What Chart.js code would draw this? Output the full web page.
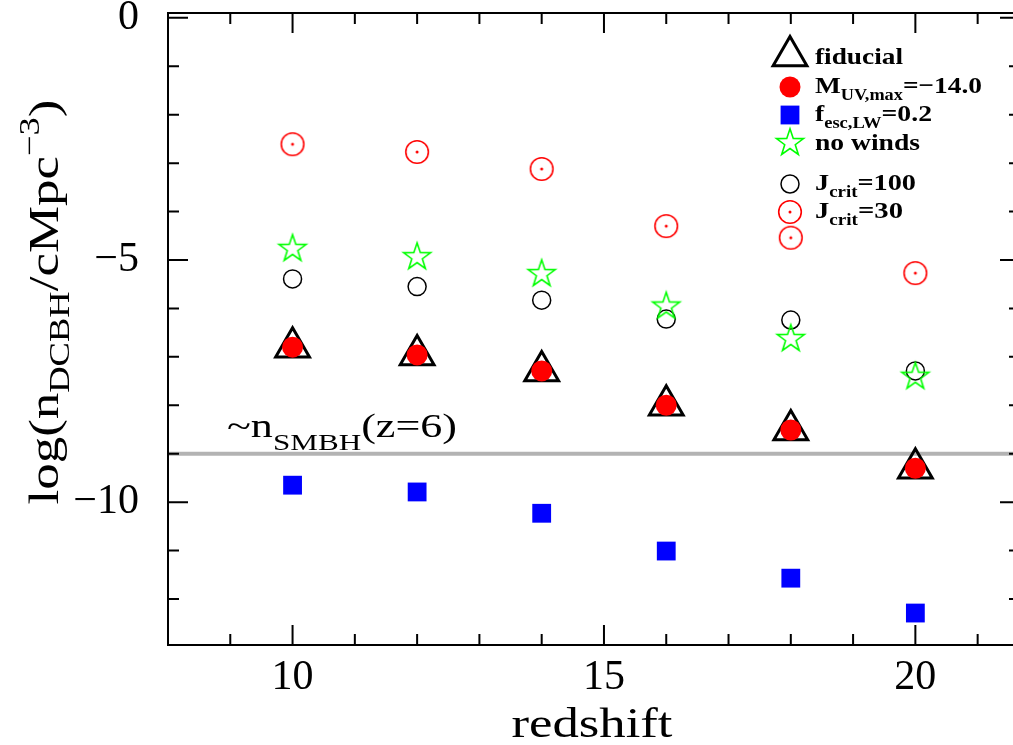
<!DOCTYPE html>
<html>
<head>
<meta charset="utf-8">
<script src="https://cdn.jsdelivr.net/npm/chart.js@4.4.1/dist/chart.umd.min.js"></script>
<style>
  html, body { margin: 0; padding: 0; background: #fff; overflow: hidden; }
  #wrap { width: 1024px; height: 745px; }
</style>
</head>
<body>
<div id="wrap"><canvas id="dcbh" width="1024" height="745"></canvas></div>
<script>
// number density of DCBH host haloes per redshift, one array per model
const redshift  = [10, 12, 14, 16, 18, 20];
const fiducial  = [-6.80, -6.96, -7.29, -8.00, -8.51, -9.30];
const muvMax14  = [-6.80, -6.96, -7.29, -8.00, -8.51, -9.30];
const fescLW02  = [-9.65, -9.79, -10.23, -11.01, -11.57, -12.29];
const noWinds   = [-4.77, -4.94, -5.29, -5.96, -6.63, -7.41];
const jcrit100  = [-5.39, -5.55, -5.83, -6.22, -6.24, -7.29];
const jcrit30   = [-2.61, -2.77, -3.12, -4.30, -4.54, -5.27];

const smbhLevel = -9;           // ~n_SMBH at z=6
const xMajor = [10, 15, 20];
const yMajor = [0, -5, -10];

const SERIF = '"Liberation Serif", "DejaVu Serif", serif';

function pts(ys) { return redshift.map((z, i) => ({ x: z, y: ys[i] })); }

// five-pointed open star
function starImage(r, color, lw) {
  const s = Math.ceil(2 * r + 2 * lw + 4);
  const c = document.createElement('canvas');
  c.width = c.height = s;
  const g = c.getContext('2d');
  g.strokeStyle = color; g.lineWidth = lw; g.lineJoin = 'miter';
  g.beginPath();
  for (let i = 0; i < 10; i++) {
    const a = -Math.PI / 2 + i * Math.PI / 5;
    const rr = i % 2 ? r * 0.39 : r;
    const px = s / 2 + rr * Math.cos(a), py = s / 2 + rr * Math.sin(a);
    if (i === 0) g.moveTo(px, py); else g.lineTo(px, py);
  }
  g.closePath(); g.stroke();
  return c;
}

// open circle with a dot in the middle
function dotCircleImage(r, color, lw) {
  const s = Math.ceil(2 * r + 2 * lw + 4);
  const c = document.createElement('canvas');
  c.width = c.height = s;
  const g = c.getContext('2d');
  g.strokeStyle = color; g.fillStyle = color; g.lineWidth = lw;
  g.beginPath(); g.arc(s / 2, s / 2, r, 0, 2 * Math.PI); g.stroke();
  g.beginPath(); g.arc(s / 2, s / 2, 1.5, 0, 2 * Math.PI); g.fill();
  return c;
}

const starImg = starImage(14.2, '#00ff00', 1.6);
const dotImg = dotCircleImage(11.3, '#ff0000', 1.6);

// marker styles shared by datasets and the legend
const styles = {
  fiducial: { pointStyle: 'triangle', radius: 19.5, bg: 'rgba(0,0,0,0)', border: '#000', bw: 3 },
  muv:      { pointStyle: 'circle', radius: 10.5, bg: '#ff0000', border: '#ff0000', bw: 0 },
  fesc:     { pointStyle: 'rect', radius: 13.3, bg: '#0000ff', border: '#0000ff', bw: 0 },
  winds:    { pointStyle: starImg, radius: 14, bg: '#00ff00', border: '#00ff00', bw: 0 },
  j100:     { pointStyle: 'circle', radius: 9, bg: 'rgba(0,0,0,0)', border: '#000', bw: 1.5 },
  j30:      { pointStyle: dotImg, radius: 12, bg: '#ff0000', border: '#ff0000', bw: 0 }
};

function ds(label, ys, st) {
  return {
    label: label, data: pts(ys), showLine: false,
    pointStyle: st.pointStyle, pointRadius: st.radius, pointHoverRadius: st.radius,
    pointBackgroundColor: st.bg, pointBorderColor: st.border, pointBorderWidth: st.bw
  };
}

// rich text: parts are [text, size, dy]
function richWidth(ctx, parts, weight) {
  let w = 0;
  for (const p of parts) { ctx.font = weight + ' ' + p[1] + 'px ' + SERIF; w += ctx.measureText(p[0]).width; }
  return w;
}
function drawRich(ctx, parts, x, y, o) {
  o = o || {};
  const weight = o.weight || 'normal';
  const w = richWidth(ctx, parts, weight);
  const sx = o.width ? o.width / w : 1;
  ctx.save();
  ctx.translate(x, y);
  if (o.rotate) ctx.rotate(o.rotate);
  ctx.scale(sx, 1);
  ctx.fillStyle = '#000';
  ctx.textBaseline = 'alphabetic';
  ctx.textAlign = 'left';
  let cx = o.align === 'center' ? -w / 2 : 0;
  for (const p of parts) {
    ctx.font = weight + ' ' + p[1] + 'px ' + SERIF;
    ctx.fillText(p[0], cx, p[2] || 0);
    cx += ctx.measureText(p[0]).width;
  }
  ctx.restore();
}

const legendRows = [
  { st: styles.fiducial, y: 56, base: 64, width: 88, text: [['fiducial', 24]] },
  { st: styles.muv, y: 87, base: 93, width: 167, text: [['M', 24], ['UV,max', 16, 7], ['=\u221214.0', 24]] },
  { st: styles.fesc, y: 115, base: 121, width: 117, text: [['f', 24], ['esc,LW', 16, 7], ['=0.2', 24]] },
  { st: styles.winds, y: 143, base: 150, width: 105, text: [['no winds', 24]] },
  { st: styles.j100, y: 184, base: 190, width: 101, text: [['J', 24], ['crit', 16, 7], ['=100', 24]] },
  { st: styles.j30, y: 212, base: 218, width: 88, text: [['J', 24], ['crit', 16, 7], ['=30', 24]] }
];

const framePlugin = {
  id: 'frame',
  beforeDatasetsDraw(chart) {
    const { ctx, chartArea: a, scales: { y } } = chart;
    const py = y.getPixelForValue(smbhLevel);
    ctx.save();
    ctx.strokeStyle = '#b3b3b3';
    ctx.lineWidth = 4;
    ctx.beginPath(); ctx.moveTo(a.left, py); ctx.lineTo(a.right, py); ctx.stroke();
    ctx.restore();
    drawRich(ctx, [['~n', 34], ['SMBH', 24, 13], ['(z=6)', 34]], 227, 437, { width: 230 });
  },
  afterDraw(chart) {
    const { ctx, chartArea: a, scales: { x, y } } = chart;
    ctx.save();
    ctx.strokeStyle = '#000';
    ctx.lineWidth = 2;
    ctx.strokeRect(a.left, a.top, a.right - a.left, a.bottom - a.top);
    ctx.beginPath();
    for (const t of x.ticks) {
      const px = x.getPixelForValue(t.value);
      const len = xMajor.includes(t.value) ? 20 : 11;
      ctx.moveTo(px, a.bottom); ctx.lineTo(px, a.bottom - len);
      ctx.moveTo(px, a.top); ctx.lineTo(px, a.top + len);
    }
    for (const t of y.ticks) {
      const py = y.getPixelForValue(t.value);
      const len = yMajor.includes(t.value) ? 20 : 11;
      ctx.moveTo(a.left, py); ctx.lineTo(a.left + len, py);
      ctx.moveTo(a.right, py); ctx.lineTo(a.right - len, py);
    }
    ctx.stroke();

    // legend
    for (const r of legendRows) {
      ctx.save();
      ctx.fillStyle = r.st.bg; ctx.strokeStyle = r.st.border; ctx.lineWidth = r.st.bw;
      Chart.helpers.drawPoint(ctx, { pointStyle: r.st.pointStyle, radius: r.st.radius, borderWidth: r.st.bw, rotation: 0 }, 790, r.y);
      ctx.restore();
      drawRich(ctx, r.text, 815, r.base, { weight: 'bold', width: r.width });
    }

    // axis titles
    drawRich(ctx, [['redshift', 42]], 592, 737, { align: 'center', width: 161 });
    drawRich(ctx, [['log(n', 42], ['DCBH', 29, 11], ['/cMpc', 42], ['\u22123', 29, -19], [')', 42]],
      58, 302, { align: 'center', rotate: -Math.PI / 2, width: 405 });
    ctx.restore();
  }
};

new Chart(document.getElementById('dcbh'), {
  type: 'scatter',
  data: {
    datasets: [
      ds('M_UV,max=-14.0', muvMax14, styles.muv),
      ds('no winds', noWinds, styles.winds),
      ds('fiducial', fiducial, styles.fiducial),
      ds('f_esc,LW=0.2', fescLW02, styles.fesc),
      ds('J_crit=100', jcrit100, styles.j100),
      ds('J_crit=30', jcrit30, styles.j30)
    ]
  },
  options: {
    responsive: false,
    animation: false,
    events: [],
    layout: { autoPadding: false, padding: { top: 13, right: 4, left: 0, bottom: 0 } },
    plugins: { legend: { display: false }, tooltip: { enabled: false } },
    scales: {
      x: {
        type: 'linear', min: 8, max: 21.68,
        afterFit(s) { s.height = 100; s.paddingLeft = 0; s.paddingRight = 0; },
        border: { display: false },
        grid: { display: false, drawTicks: false },
        ticks: {
          stepSize: 1, includeBounds: false, autoSkip: false, maxRotation: 0,
          padding: 12, color: '#000',
          font: { family: SERIF, size: 42, lineHeight: 1 },
          callback: v => (xMajor.includes(v) ? String(v) : '')
        }
      },
      y: {
        type: 'linear', min: -12.95, max: 0.1,
        afterFit(s) { s.width = 168; s.paddingTop = 0; s.paddingBottom = 0; },
        border: { display: false },
        grid: { display: false, drawTicks: false },
        ticks: {
          stepSize: 1, includeBounds: false, autoSkip: false,
          padding: 29, color: '#000',
          font: { family: SERIF, size: 42, lineHeight: 1 },
          callback: v => (yMajor.includes(v) ? String(v).replace('-', '\u2212') : '')
        }
      }
    }
  },
  plugins: [framePlugin]
});
</script>
</body>
</html>
